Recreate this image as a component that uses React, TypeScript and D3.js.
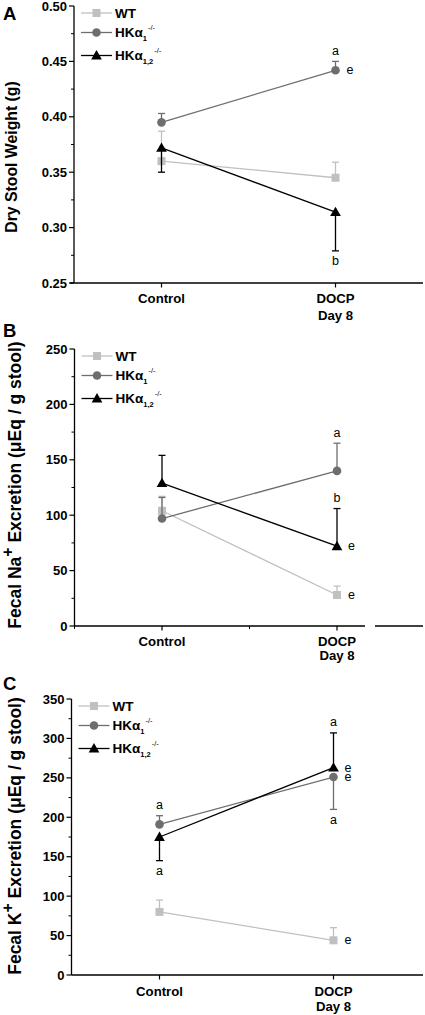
import React from "react";
import * as d3 from "d3";

// ---------- data ----------
const categories = ["Control", "DOCP"];
const categorySub = ["", "Day 8"];
const categoryIndex = [1, 2];

const seriesNames = ["WT", "HKα", "HKα"];
const seriesSub = ["", "1", "1,2"];
const seriesSup = ["", "-/-", "-/-"];
const seriesColors = ["#c0c0c0", "#6e6e6e", "#000000"];
const seriesShapes = ["square", "circle", "triangle"];

// Panel A: dry stool weight (g)
const weightTicks = [0.25, 0.3, 0.35, 0.4, 0.45, 0.5];
const weightWT = [0.36, 0.345];
const weightWTErr = [0.387, 0.359];
const weightHK1 = [0.395, 0.442];
const weightHK1Err = [0.403, 0.45];
const weightHK12 = [0.372, 0.314];
const weightHK12Err = [0.35, 0.279];
const weightMarks = [
  { series: 1, cat: 1, text: "a", at: "above" },
  { series: 1, cat: 1, text: "e", at: "right" },
  { series: 2, cat: 1, text: "b", at: "below" },
];

// Panel B: fecal Na+ excretion
const naTicks = [0, 50, 100, 150, 200, 250];
const naWT = [104, 28];
const naWTErr = [117, 36];
const naHK1 = [97, 140];
const naHK1Err = [116, 165];
const naHK12 = [129, 72];
const naHK12Err = [154, 106];
const naMarks = [
  { series: 1, cat: 1, text: "a", at: "above" },
  { series: 2, cat: 1, text: "b", at: "above" },
  { series: 2, cat: 1, text: "e", at: "right" },
  { series: 0, cat: 1, text: "e", at: "right" },
];

// Panel C: fecal K+ excretion
const kTicks = [0, 50, 100, 150, 200, 250, 300, 350];
const kWT = [80, 44];
const kWTErr = [95, 60];
const kHK1 = [191, 251];
const kHK1Err = [202, 210];
const kHK12 = [175, 263];
const kHK12Err = [145, 307];
const kMarks = [
  { series: 1, cat: 0, text: "a", at: "above" },
  { series: 2, cat: 0, text: "a", at: "below" },
  { series: 2, cat: 1, text: "a", at: "above" },
  { series: 2, cat: 1, text: "e", at: "right" },
  { series: 1, cat: 1, text: "e", at: "right" },
  { series: 1, cat: 1, text: "a", at: "below" },
  { series: 0, cat: 1, text: "e", at: "right" },
];

// ---------- layout ----------
const FONT = "'Liberation Sans', Arial, Helvetica, sans-serif";

const panels = [
  {
    letter: "A",
    labelMain: "Dry Stool Weight (g)",
    labelIon: "",
    labelRest: "",
    ticks: weightTicks,
    fmt: d3.format(".2f"),
    values: [weightWT, weightHK1, weightHK12],
    errs: [weightWTErr, weightHK1Err, weightHK12Err],
    marks: weightMarks,
    L: {
      left: 74, top: 6, bottom: 283, ctrl: 161.5, docp: 335.5,
      axisStart: 70, axisEnd: 423, brk: null as null | number[], minorX: [] as number[],
      catBase: 302.7, catGap: 17, letterY: 20, labelX: 16.5, labelSize: 15.8,
      labelCenter: 157,
    },
  },
  {
    letter: "B",
    labelMain: "Fecal Na",
    labelIon: "+",
    labelRest: " Excretion (μEq / g stool)",
    ticks: naTicks,
    fmt: d3.format("d"),
    values: [naWT, naHK1, naHK12],
    errs: [naWTErr, naHK1Err, naHK12Err],
    marks: naMarks,
    L: {
      left: 74.5, top: 349, bottom: 626, ctrl: 162, docp: 337,
      axisStart: 74.5, axisEnd: 423, brk: [365, 375], minorX: [0.5, 1.5],
      catBase: 646.3, catGap: 14, letterY: 337, labelX: 21, labelSize: 17.5,
      labelCenter: 485,
    },
  },
  {
    letter: "C",
    labelMain: "Fecal K",
    labelIon: "+",
    labelRest: " Excretion (μEq / g stool)",
    ticks: kTicks,
    fmt: d3.format("d"),
    values: [kWT, kHK1, kHK12],
    errs: [kWTErr, kHK1Err, kHK12Err],
    marks: kMarks,
    L: {
      left: 71.5, top: 699, bottom: 975, ctrl: 159.5, docp: 333.5,
      axisStart: 71.5, axisEnd: 423, brk: null as null | number[], minorX: [] as number[],
      catBase: 996.3, catGap: 15, letterY: 690, labelX: 21, labelSize: 17.5,
      labelCenter: 836,
    },
  },
];

function Marker({ shape, x, y, color }: { shape: string; x: number; y: number; color: string }) {
  if (shape === "square") return <rect x={x - 4} y={y - 4} width={8} height={8} fill={color} />;
  if (shape === "circle") return <circle cx={x} cy={y} r={4.3} fill={color} />;
  const tri = d3.symbol().type(d3.symbolTriangle).size(50)();
  return <path d={tri || ""} transform={`translate(${x},${y + 0.8})`} fill={color} />;
}

function Panel({ p }: { p: (typeof panels)[number] }) {
  const L = p.L;
  const dom = d3.extent(p.ticks) as [number, number];
  const y = d3.scaleLinear().domain(dom).range([L.bottom, L.top]);
  const x = d3.scaleLinear().domain([1, 2]).range([L.ctrl, L.docp]);
  const step = p.ticks[1] - p.ticks[0];
  const minor = p.ticks.slice(0, -1).map((t) => t + step / 2);
  const line = d3
    .line<number>()
    .x((_, i) => x(categoryIndex[i]))
    .y((d) => y(d));

  const axisSegs: number[][] = L.brk
    ? [[L.axisStart, L.brk[0]], [L.brk[1], L.axisEnd]]
    : [[L.axisStart, L.axisEnd]];

  return (
    <g>
      <text x={3} y={L.letterY} fontSize={18.5} fontWeight="bold" fontFamily={FONT}>
        {p.letter}
      </text>
      <text
        transform={`translate(${L.labelX},${L.labelCenter}) rotate(-90)`}
        textAnchor="middle"
        fontSize={L.labelSize}
        fontWeight="bold"
        fontFamily={FONT}
      >
        <tspan>{p.labelMain}</tspan>
        {p.labelIon && (
          <tspan dy={-8} fontSize={L.labelSize * 0.9}>
            {p.labelIon}
          </tspan>
        )}
        {p.labelRest && <tspan dy={8}>{p.labelRest}</tspan>}
      </text>

      <line x1={L.left} x2={L.left} y1={y(dom[1])} y2={y(dom[0])} stroke="#000" strokeWidth={1.3} />
      {p.ticks.map((t) => (
        <g key={"t" + t}>
          <line x1={L.left - 5} x2={L.left} y1={y(t)} y2={y(t)} stroke="#000" strokeWidth={1.2} />
          <text
            x={L.left - 7}
            y={y(t) + 4.5}
            textAnchor="end"
            fontSize={13}
            fontWeight="bold"
            fontFamily={FONT}
          >
            {p.fmt(t)}
          </text>
        </g>
      ))}
      {minor.map((t) => (
        <line key={"m" + t} x1={L.left - 3} x2={L.left} y1={y(t)} y2={y(t)} stroke="#000" strokeWidth={1} />
      ))}

      {axisSegs.map((s, i) => (
        <line key={"xa" + i} x1={s[0]} x2={s[1]} y1={L.bottom} y2={L.bottom} stroke="#000" strokeWidth={1.3} />
      ))}
      {categoryIndex.map((c, i) => (
        <g key={"c" + c}>
          <line x1={x(c)} x2={x(c)} y1={L.bottom} y2={L.bottom + 4.5} stroke="#000" strokeWidth={1.2} />
          <text x={x(c)} y={L.catBase} textAnchor="middle" fontSize={13.2} fontWeight="bold" fontFamily={FONT}>
            {categories[i]}
          </text>
          {categorySub[i] && (
            <text
              x={x(c)}
              y={L.catBase + L.catGap}
              textAnchor="middle"
              fontSize={13.2}
              fontWeight="bold"
              fontFamily={FONT}
            >
              {categorySub[i]}
            </text>
          )}
        </g>
      ))}
      {L.minorX.map((m) => (
        <line key={"mx" + m} x1={x(m)} x2={x(m)} y1={L.bottom} y2={L.bottom + 3} stroke="#000" strokeWidth={1} />
      ))}

      {p.values.map((vals, si) => (
        <g key={"s" + si}>
          {vals.map((v, ci) => {
            const cx = x(categoryIndex[ci]);
            const e = p.errs[si][ci];
            return (
              <g key={"e" + ci}>
                <line x1={cx} x2={cx} y1={y(v)} y2={y(e)} stroke={seriesColors[si]} strokeWidth={1.3} />
                <line x1={cx - 3.5} x2={cx + 3.5} y1={y(e)} y2={y(e)} stroke={seriesColors[si]} strokeWidth={1.3} />
              </g>
            );
          })}
          <path d={line(vals) || ""} fill="none" stroke={seriesColors[si]} strokeWidth={1.3} />
          {vals.map((v, ci) => (
            <Marker
              key={"mk" + ci}
              shape={seriesShapes[si]}
              x={x(categoryIndex[ci])}
              y={y(v)}
              color={seriesColors[si]}
            />
          ))}
        </g>
      ))}

      {p.marks.map((m, i) => {
        const cx = x(categoryIndex[m.cat]);
        const v = p.values[m.series][m.cat];
        const e = p.errs[m.series][m.cat];
        let tx = cx;
        let cy = y(v);
        if (m.at === "above") cy = y(e) - 10.5;
        else if (m.at === "below") cy = y(e) + 10.5;
        else tx = cx + 14.5;
        return (
          <text key={"a" + i} x={tx} y={cy + 4} textAnchor="middle" fontSize={12.5} fontFamily={FONT}>
            {m.text}
          </text>
        );
      })}

      {seriesNames.map((n, si) => {
        const ry = L.top + [7, 26.5, 49.5][si];
        const x0 = L.left + 7;
        const x1 = L.left + 38;
        return (
          <g key={"lg" + si}>
            <line x1={x0} x2={x1} y1={ry} y2={ry} stroke={seriesColors[si]} strokeWidth={1.3} />
            <Marker shape={seriesShapes[si]} x={(x0 + x1) / 2} y={ry} color={seriesColors[si]} />
            <text x={x1 + 3} y={ry + 4.8} fontSize={13.5} fontWeight="bold" fontFamily={FONT}>
              <tspan>{n}</tspan>
              {seriesSub[si] && (
                <tspan dy={3.5} fontSize={7.5}>
                  {seriesSub[si]}
                </tspan>
              )}
              {seriesSup[si] && (
                <tspan dy={-10.5} dx={1} fontSize={7.5} fontWeight="normal">
                  {seriesSup[si]}
                </tspan>
              )}
            </text>
          </g>
        );
      })}
    </g>
  );
}

export default function App() {
  return (
    <div style={{ position: "absolute", left: 0, top: 0 }}>
      <svg width={425} height={1015} style={{ display: "block", background: "#fff" }}>
        {panels.map((p) => (
          <Panel key={p.letter} p={p} />
        ))}
      </svg>
    </div>
  );
}
